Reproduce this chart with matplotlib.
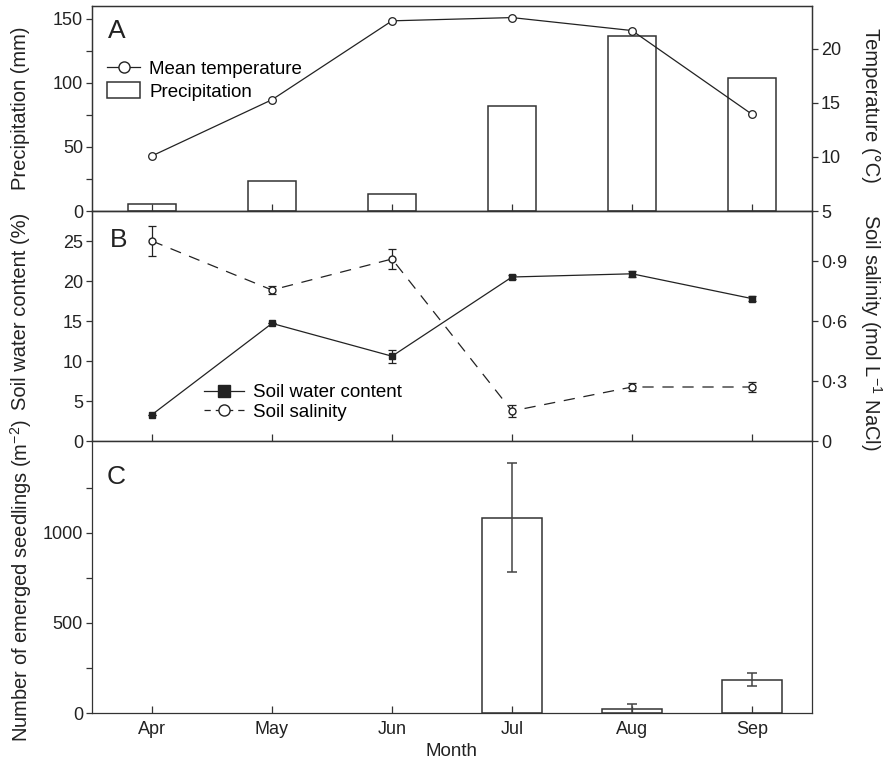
import matplotlib

matplotlib.use("Agg")
import matplotlib.pyplot as plt
from matplotlib.lines import Line2D
from matplotlib.patches import Patch

plt.rcParams["font.family"] = ["Liberation Sans", "DejaVu Sans"]
plt.rcParams["mathtext.fontset"] = "custom"
plt.rcParams["mathtext.rm"] = "Liberation Sans"
plt.rcParams["mathtext.default"] = "regular"

# data
months = ["Apr", "May", "Jun", "Jul", "Aug", "Sep"]
precipitation = [5.5, 23.5, 13, 81.5, 136.5, 104]
mean_temperature = [10.1, 15.3, 22.6, 22.9, 21.7, 13.95]
water_content = [3.3, 14.7, 10.6, 20.5, 20.9, 17.8]
water_content_err = [0, 0, 0.8, 0.3, 0.4, 0.3]
salinity = [1.0, 0.755, 0.91, 0.15, 0.27, 0.27]
salinity_err = [0.075, 0.02, 0.05, 0.03, 0.02, 0.025]
seedlings = [0, 0, 0, 1085, 20, 185]
seedlings_err = [0, 0, 0, 303, 30, 35]

INK = "#222222"
SPINE = "#333333"
FS_TICK = 13
FS_LEG = 13.5
FS_LAB = 14.5
W, H = 884, 766
x = list(range(len(months)))


def _frac(left, top, right, bottom):
    return [left / W, 1 - bottom / H, (right - left) / W, (bottom - top) / H]


def _style(ax, xlabels=False):
    for sp in ax.spines.values():
        sp.set_linewidth(0.9)
        sp.set_color(SPINE)
    ax.set_xlim(-0.5, 5.5)
    ax.set_xticks(x)
    ax.tick_params(axis="x", direction="in", length=5, width=0.9, color=SPINE,
                   labelsize=FS_TICK, pad=6, labelbottom=xlabels, labelcolor=INK)
    ax.tick_params(axis="y", which="both", direction="out", length=4.5, width=0.9,
                   color=SPINE, labelsize=FS_TICK, pad=2, labelcolor=INK)
    if xlabels:
        ax.set_xticklabels(months)


fig = plt.figure(figsize=(W / 100, H / 100), dpi=100)
L, R = 92, 812
axA = fig.add_axes(_frac(L, 5.7, R, 211))
axB = fig.add_axes(_frac(L, 211, R, 441))
axC = fig.add_axes(_frac(L, 441, R, 713))

# ---- panel A ----
axA.bar(x, precipitation, width=0.4, facecolor="white", edgecolor=SPINE, linewidth=1.1)
axA.set_ylim(0, 160)
axA.set_yticks([0, 50, 100, 150])
axA.set_yticks([25, 75, 125], minor=True)
_style(axA)
axA2 = axA.twinx()
axA2.plot(x, mean_temperature, color=INK, linewidth=0.9, marker="o", markersize=5.5,
          markerfacecolor="white", markeredgecolor=INK, markeredgewidth=0.9)
axA2.set_ylim(5, 24)
axA2.set_yticks([5, 10, 15, 20])
_style(axA2)
axA.text(0.022, 0.878, "A", transform=axA.transAxes, fontsize=19, color=INK,
         ha="left", va="center")
handlesA = [
    Line2D([], [], color=INK, linewidth=0.9, marker="o", markersize=8,
           markerfacecolor="white", markeredgecolor=INK),
    Patch(facecolor="white", edgecolor=SPINE, linewidth=1.1),
]
axA2.legend(handlesA, ["Mean temperature", "Precipitation"], loc="upper left",
            bbox_to_anchor=(0.021, 0.737), frameon=False, fontsize=FS_LEG,
            borderpad=0, borderaxespad=0, handlelength=1.75, handleheight=0.95,
            handletextpad=0.5, labelspacing=0.2)

# ---- panel B ----
axB.errorbar(x, water_content, yerr=water_content_err, fmt="none", ecolor=INK,
             elinewidth=0.9, capsize=3, capthick=0.9)
axB.plot(x, water_content, color=INK, linewidth=0.9, marker="s", markersize=5,
         markerfacecolor=INK, markeredgecolor=INK, zorder=3)
axB.set_ylim(0, 28.75)
axB.set_yticks([0, 5, 10, 15, 20, 25])
_style(axB)
axB2 = axB.twinx()
axB2.errorbar(x, salinity, yerr=salinity_err, fmt="none", ecolor=INK,
              elinewidth=0.9, capsize=3, capthick=0.9)
axB2.plot(x, salinity, color=INK, linewidth=0.9, linestyle=(0, (9, 7)), marker="o",
          markersize=5, markerfacecolor="white", markeredgecolor=INK, zorder=3)
axB2.set_ylim(0, 1.15)
axB2.set_yticks([0, 0.3, 0.6, 0.9])
axB2.set_yticklabels(["0", "0·3", "0·6", "0·9"])
_style(axB2)
axB.text(0.025, 0.874, "B", transform=axB.transAxes, fontsize=19, color=INK,
         ha="left", va="center")
handlesB = [
    Line2D([], [], color=INK, linewidth=0.9, marker="s", markersize=8,
           markerfacecolor=INK, markeredgecolor=INK),
    Line2D([], [], color=INK, linewidth=0.9, linestyle=(0, (5, 4)), marker="o",
           markersize=8, markerfacecolor="white", markeredgecolor=INK),
]
axB2.legend(handlesB, ["Soil water content", "Soil salinity"], loc="upper left",
            bbox_to_anchor=(0.156, 0.248), frameon=False, fontsize=FS_LEG,
            borderpad=0, borderaxespad=0, handlelength=2.1, handletextpad=0.5,
            labelspacing=0.15)

# ---- panel C ----  (months with no seedlings get no bar)
xc = [xi for xi, v in zip(x, seedlings) if v > 0]
sc = [v for v in seedlings if v > 0]
ec = [e for v, e in zip(seedlings, seedlings_err) if v > 0]
axC.bar(xc, sc, width=0.5, facecolor="white", edgecolor=SPINE, linewidth=1.1,
        yerr=ec, capsize=3.5,
        error_kw=dict(ecolor="#444444", elinewidth=1.1, capthick=1.1))
axC.set_ylim(0, 1510)
axC.set_yticks([0, 500, 1000])
axC.set_yticks([250, 750, 1250], minor=True)
_style(axC, xlabels=True)
axC.text(0.021, 0.869, "C", transform=axC.transAxes, fontsize=19, color=INK,
         ha="left", va="center")

# ---- axis titles ----
lx, rx = 21 / W, 871 / W
fig.text(lx, 1 - 108 / H, "Precipitation (mm)", rotation=90, ha="center", va="center",
         fontsize=FS_LAB, color=INK)
fig.text(lx, 1 - 311 / H, "Soil water content (%)", rotation=90, ha="center",
         va="center", fontsize=FS_LAB, color=INK)
fig.text(lx, 1 - 581 / H, "Number of emerged seedlings (m$^{-2}$)", rotation=90,
         ha="center", va="center", fontsize=FS_LAB, color=INK)
fig.text(rx, 1 - 105 / H, "Temperature (°C)", rotation=270, ha="center", va="center",
         fontsize=FS_LAB, color=INK)
fig.text(rx, 1 - 332 / H, "Soil salinity (mol L$^{-1}$ NaCl)", rotation=270,
         ha="center", va="center", fontsize=FS_LAB, color=INK)
fig.text(452 / W, 1 - 752 / H, "Month", ha="center", va="center", fontsize=FS_LEG,
         color=INK)

fig.savefig("out.png", dpi=100, facecolor="white")
